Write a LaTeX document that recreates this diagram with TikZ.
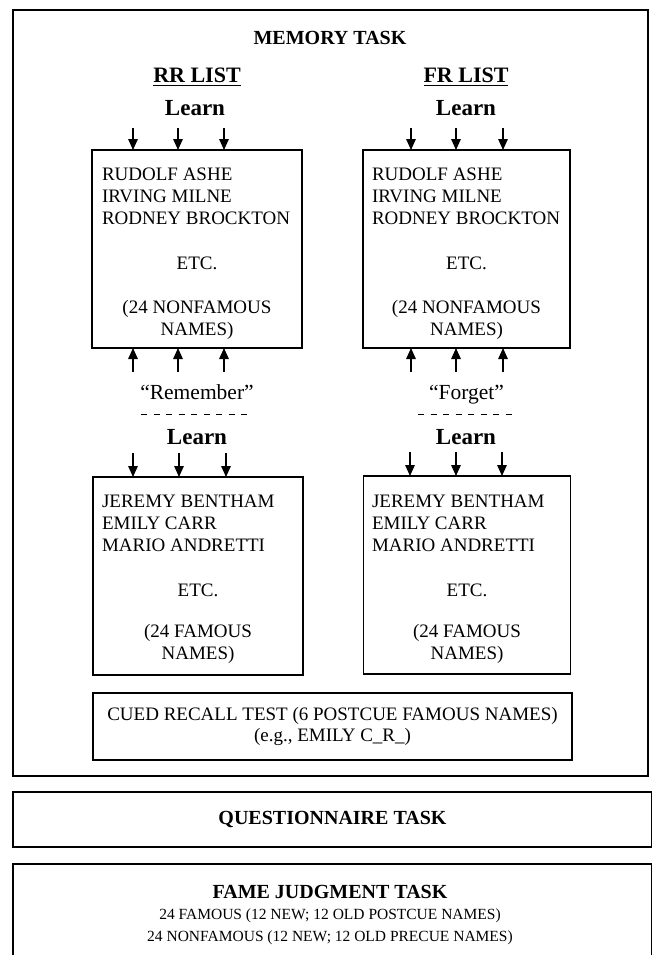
\documentclass[tikz,border=0pt]{standalone}
\usepackage{fontspec}
\setmainfont{Liberation Serif}
\usetikzlibrary{arrows.meta, positioning}

\begin{document}
\begin{tikzpicture}[
    x=1pt, y=-1pt,
    every node/.style={inner sep=0pt, outer sep=0pt},
    body/.style={font=\fontsize{19}{21.7}\selectfont},
    small/.style={font=\fontsize{15.5}{22}\selectfont},
    head/.style={font=\fontsize{20}{24}\selectfont\bfseries},
    listhead/.style={font=\fontsize{22}{25}\selectfont\bfseries},
    learn/.style={font=\fontsize{23}{26}\selectfont\bfseries},
    cue/.style={font=\fontsize{21.5}{24}\selectfont, anchor=base},
    namebox/.style={
        draw,
        line width=1.1pt,
        minimum height=198pt
    },
    taskbox/.style={
        draw,
        line width=1.1pt
    },
    arrow/.style={-{Triangle[length=11pt,width=9.5pt]}, line width=1.5pt},
    cueline/.style={dash pattern=on 6pt off 6.5pt, line width=0.8pt}
]
\useasboundingbox (0,0) rectangle (651,955);

% MEMORY TASK
\node[taskbox, minimum width=635pt, minimum height=766pt] (memtask) at (330.5,393) {};
\node[head] (memtitle) at (330,38) {MEMORY TASK};
\node[listhead] (rrlist) at (197,75) {RR LIST};
\node[listhead] (frlist) at (466,75) {FR LIST};
\node[learn] (rrlearn) at (195,108) {Learn};
\node[learn] (frlearn) at (466,108) {Learn};

\node[namebox, minimum width=210pt] (rrtop) at (197,249) {};
\node[namebox, minimum width=207pt] (frtop) at (466.5,249) {};
\node[body, align=left, anchor=west] (rrnonfam) at (102,196.5) {RUDOLF ASHE\\IRVING MILNE\\RODNEY BROCKTON};
\node[body, align=left, anchor=west] (frnonfam) at (372,196.5) {RUDOLF ASHE\\IRVING MILNE\\RODNEY BROCKTON};
\node[body] (rretctop) at (197,263) {ETC.};
\node[body] (fretctop) at (466.5,263) {ETC.};
\node[body, align=center] (rrcounttop) at (197,320) {(24 NONFAMOUS\\NAMES)};
\node[body, align=center] (frcounttop) at (466.5,320) {(24 NONFAMOUS\\NAMES)};

\node[cue] (remember) at (197,399) {``Remember''};
\node[cue] (forget) at (466.5,399) {``Forget''};
\coordinate (rrdashl) at (141,414);
\coordinate (rrdashr) at (253,414);
\coordinate (frdashl) at (418,414);
\coordinate (frdashr) at (515,414);
\node[learn] (rrlearnb) at (197,437) {Learn};
\node[learn] (frlearnb) at (466,437) {Learn};

\node[namebox, minimum width=210pt] (rrbot) at (198,576) {};
\node[namebox, minimum width=207pt] (frbot) at (467,575) {};
\node[body, align=left, anchor=west] (rrfam) at (102,523.5) {JEREMY BENTHAM\\EMILY CARR\\MARIO ANDRETTI};
\node[body, align=left, anchor=west] (frfam) at (372,523.5) {JEREMY BENTHAM\\EMILY CARR\\MARIO ANDRETTI};
\node[body] (rretcbot) at (198,590) {ETC.};
\node[body] (fretcbot) at (467,590) {ETC.};
\node[body, align=center] (rrcountbot) at (198,644) {(24 FAMOUS\\NAMES)};
\node[body, align=center] (frcountbot) at (467,644) {(24 FAMOUS\\NAMES)};

\node[taskbox, body, align=center, minimum width=479pt, minimum height=67pt] (cued) at (332.5,726.5)
    {CUED RECALL TEST (6 POSTCUE FAMOUS NAMES)\\(e.g., EMILY C\_R\_)};

% QUESTIONNAIRE + FAME JUDGMENT
\node[taskbox, head, minimum width=639pt, minimum height=55pt] (quest) at (332.5,819.5) {QUESTIONNAIRE TASK};
\node[taskbox, minimum width=639pt, minimum height=140pt] (fame) at (332.5,934) {};
\node[head] (fametitle) at (330,892) {FAME JUDGMENT TASK};
\node[small, align=center] (famelist) at (330,927) {24 FAMOUS (12 NEW; 12 OLD POSTCUE NAMES)\\24 NONFAMOUS (12 NEW; 12 OLD PRECUE NAMES)};

% UNDERLINES
\draw[line width=1.3pt] ([yshift=-3pt]rrlist.base west) -- ([yshift=-3pt]rrlist.base east);
\draw[line width=1.3pt] ([yshift=-3pt]frlist.base west) -- ([yshift=-3pt]frlist.base east);

% CUE LINES
\draw[cueline] (rrdashl) -- (rrdashr);
\draw[cueline] (frdashl) -- (frdashr);

% ARROWS
\draw[arrow] ([xshift=-64pt,yshift=22pt]rrtop.north) -- ([xshift=-64pt]rrtop.north);
\draw[arrow] ([xshift=-19pt,yshift=22pt]rrtop.north) -- ([xshift=-19pt]rrtop.north);
\draw[arrow] ([xshift=27pt,yshift=22pt]rrtop.north) -- ([xshift=27pt]rrtop.north);
\draw[arrow] ([xshift=-55.5pt,yshift=22pt]frtop.north) -- ([xshift=-55.5pt]frtop.north);
\draw[arrow] ([xshift=-10.5pt,yshift=22pt]frtop.north) -- ([xshift=-10.5pt]frtop.north);
\draw[arrow] ([xshift=36.5pt,yshift=22pt]frtop.north) -- ([xshift=36.5pt]frtop.north);
\draw[arrow] ([xshift=-64pt,yshift=-24pt]rrtop.south) -- ([xshift=-64pt]rrtop.south);
\draw[arrow] ([xshift=-19pt,yshift=-24pt]rrtop.south) -- ([xshift=-19pt]rrtop.south);
\draw[arrow] ([xshift=27pt,yshift=-24pt]rrtop.south) -- ([xshift=27pt]rrtop.south);
\draw[arrow] ([xshift=-55.5pt,yshift=-24pt]frtop.south) -- ([xshift=-55.5pt]frtop.south);
\draw[arrow] ([xshift=-10.5pt,yshift=-24pt]frtop.south) -- ([xshift=-10.5pt]frtop.south);
\draw[arrow] ([xshift=36.5pt,yshift=-24pt]frtop.south) -- ([xshift=36.5pt]frtop.south);
\draw[arrow] ([xshift=-65pt,yshift=24pt]rrbot.north) -- ([xshift=-65pt]rrbot.north);
\draw[arrow] ([xshift=-19pt,yshift=24pt]rrbot.north) -- ([xshift=-19pt]rrbot.north);
\draw[arrow] ([xshift=28pt,yshift=24pt]rrbot.north) -- ([xshift=28pt]rrbot.north);
\draw[arrow] ([xshift=-57pt,yshift=24pt]frbot.north) -- ([xshift=-57pt]frbot.north);
\draw[arrow] ([xshift=-11pt,yshift=24pt]frbot.north) -- ([xshift=-11pt]frbot.north);
\draw[arrow] ([xshift=35pt,yshift=24pt]frbot.north) -- ([xshift=35pt]frbot.north);

\end{tikzpicture}
\end{document}
